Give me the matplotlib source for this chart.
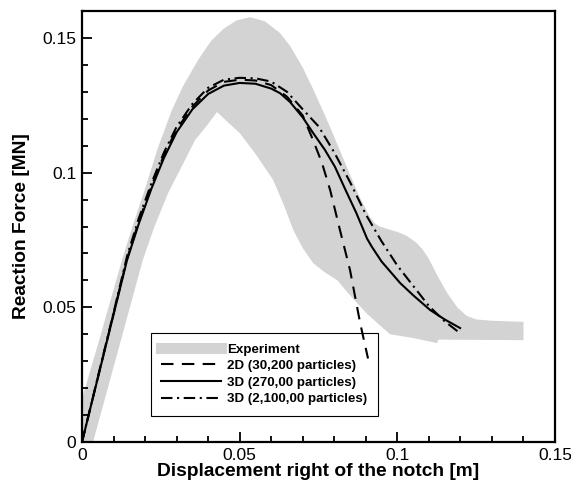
import numpy as np
import matplotlib
matplotlib.use("Agg")
import matplotlib.pyplot as plt
from matplotlib.ticker import MultipleLocator, FixedFormatter, FixedLocator

plt.rcParams['font.family'] = ['Liberation Sans', 'DejaVu Sans']

# experiment scatter band: upper edge (left to right) and lower edge (right to left)
band_upper_x = [0.0, 0.005, 0.0127, 0.016, 0.020, 0.024, 0.0285, 0.032, 0.0368, 0.041, 0.045,
                0.049, 0.0533, 0.058, 0.0628, 0.066, 0.070, 0.0733, 0.076, 0.079, 0.084, 0.088,
                0.0913, 0.093, 0.0945, 0.097, 0.100, 0.103, 0.106, 0.108, 0.110, 0.1126, 0.1158,
                0.119, 0.122, 0.125, 0.130, 0.140]
band_upper_y = [0.016, 0.036, 0.0676, 0.080, 0.094, 0.109, 0.1232, 0.132, 0.1418, 0.149, 0.1535,
                0.1565, 0.1577, 0.1562, 0.1518, 0.147, 0.139, 0.131, 0.124, 0.116, 0.102, 0.091,
                0.0835, 0.081, 0.0800, 0.0790, 0.0780, 0.0765, 0.0740, 0.0715, 0.068, 0.062, 0.0553,
                0.050, 0.0468, 0.0455, 0.0450, 0.0446]
band_lower_x = [0.140, 0.113, 0.1126, 0.105, 0.0977, 0.0936, 0.0905, 0.0872, 0.084, 0.081, 0.077,
                0.0733, 0.070, 0.067, 0.064, 0.0606, 0.055, 0.050, 0.046, 0.0428, 0.0393, 0.0358,
                0.0315, 0.0273, 0.023, 0.0193, 0.0110, 0.0035, 0.0]
band_lower_y = [0.0378, 0.038, 0.0367, 0.0386, 0.040, 0.0442, 0.0475, 0.0516, 0.0558, 0.060, 0.063,
                0.0664, 0.072, 0.0787, 0.088, 0.0973, 0.107, 0.1147, 0.119, 0.1225, 0.117, 0.112,
                0.102, 0.0924, 0.080, 0.0676, 0.032, 0.0, 0.0]

# 2D (30,200 particles)
d2_x = [0, 0.005, 0.010, 0.0143, 0.018, 0.022, 0.026, 0.030, 0.035, 0.040, 0.045, 0.050,
        0.055, 0.060, 0.065, 0.070, 0.0733, 0.0761, 0.0787, 0.0818, 0.085, 0.0882, 0.0907]
d2_y = [0, 0.0238, 0.0476, 0.068, 0.0818, 0.095, 0.1065, 0.116, 0.1245, 0.1305, 0.1337, 0.1345,
        0.1342, 0.1325, 0.1282, 0.1212, 0.112, 0.1036, 0.0935, 0.0787, 0.0638, 0.0442, 0.031]

# 3D (270,00 particles)
d3_x = [0, 0.005, 0.010, 0.0143, 0.018, 0.022, 0.026, 0.030, 0.035, 0.040, 0.045, 0.050,
        0.055, 0.060, 0.0628, 0.066, 0.070, 0.0733, 0.077, 0.0802, 0.0836, 0.087, 0.0904,
        0.0919, 0.095, 0.1009, 0.105, 0.1104, 0.115, 0.1199]
d3_y = [0, 0.0237, 0.0473, 0.0676, 0.081, 0.094, 0.1055, 0.115, 0.1235, 0.1292, 0.1323, 0.1333,
        0.1330, 0.1312, 0.1295, 0.1262, 0.1205, 0.1147, 0.1085, 0.1022, 0.0935, 0.085, 0.0755,
        0.0725, 0.067, 0.059, 0.0545, 0.049, 0.0455, 0.0423]

# 3D (2,100,00 particles)
d3f_x = [0, 0.005, 0.010, 0.0143, 0.018, 0.022, 0.026, 0.030, 0.035, 0.040, 0.045, 0.050,
         0.055, 0.060, 0.065, 0.070, 0.075, 0.080, 0.085, 0.090, 0.095, 0.100, 0.105, 0.110,
         0.115, 0.120]
d3f_y = [0, 0.024, 0.048, 0.069, 0.083, 0.096, 0.1075, 0.117, 0.1255, 0.1315, 0.1345, 0.1352,
         0.135, 0.1338, 0.130, 0.1235, 0.1172, 0.1075, 0.0965, 0.0845, 0.0745, 0.0655, 0.058,
         0.0505, 0.0448, 0.0403]

labels = ["Experiment", "2D (30,200 particles)", "3D (270,00 particles)", "3D (2,100,00 particles)"]
xtick_vals = [0, 0.05, 0.1, 0.15]
xtick_text = ["0", "0.05", "0.1", "0.15"]
ytick_vals = [0, 0.05, 0.1, 0.15]
ytick_text = ["0", "0.05", "0.1", "0.15"]

fig = plt.figure(figsize=(5.71, 4.83), dpi=100)
ax = fig.add_axes([0.1436, 0.0849, 0.8284, 0.8923])

band_x = band_upper_x + band_lower_x
band_y = band_upper_y + band_lower_y
ax.fill(band_x, band_y, color='#d3d3d3', lw=0, zorder=1)
ax.plot([], [], color='#d3d3d3', lw=8, label=labels[0])

ax.plot(d2_x, d2_y, color='black', lw=1.5, ls=(0, (6, 4)), label=labels[1], zorder=4)
ax.plot(d3_x, d3_y, color='black', lw=1.5, ls='-', label=labels[2], zorder=4)
ax.plot(d3f_x, d3f_y, color='black', lw=1.5, ls=(0, (5.5, 2.2, 1, 2.2)), label=labels[3], zorder=4)

ax.set_xlim(0, 0.15)
ax.set_ylim(0, 0.16)
ax.xaxis.set_major_locator(FixedLocator(xtick_vals))
ax.xaxis.set_major_formatter(FixedFormatter(xtick_text))
ax.yaxis.set_major_locator(FixedLocator(ytick_vals))
ax.yaxis.set_major_formatter(FixedFormatter(ytick_text))
ax.xaxis.set_minor_locator(MultipleLocator(0.01))
ax.yaxis.set_minor_locator(MultipleLocator(0.01))
ax.tick_params(which='both', direction='in', top=False, right=False, width=1.3, labelsize=12.5)
ax.tick_params(which='major', length=7, pad=4)
ax.tick_params(which='minor', length=4)
for sp in ax.spines.values():
    sp.set_linewidth(1.6)

ax.set_xlabel("Displacement right of the notch [m]", fontsize=13.8, fontweight='bold', labelpad=0)
ax.set_ylabel("Reaction Force [MN]", fontsize=13.8, fontweight='bold', labelpad=9)

leg = ax.legend(loc='upper left', bbox_to_anchor=(0.145, 0.254), borderaxespad=0,
                fancybox=False, framealpha=1, edgecolor='black',
                handlelength=4.5, handletextpad=0.45, borderpad=0.8, labelspacing=0.32,
                prop={'weight': 'bold', 'size': 9.6})
leg.get_frame().set_linewidth(0.8)
leg.set_zorder(3)

fig.savefig("out.png", dpi=100)
